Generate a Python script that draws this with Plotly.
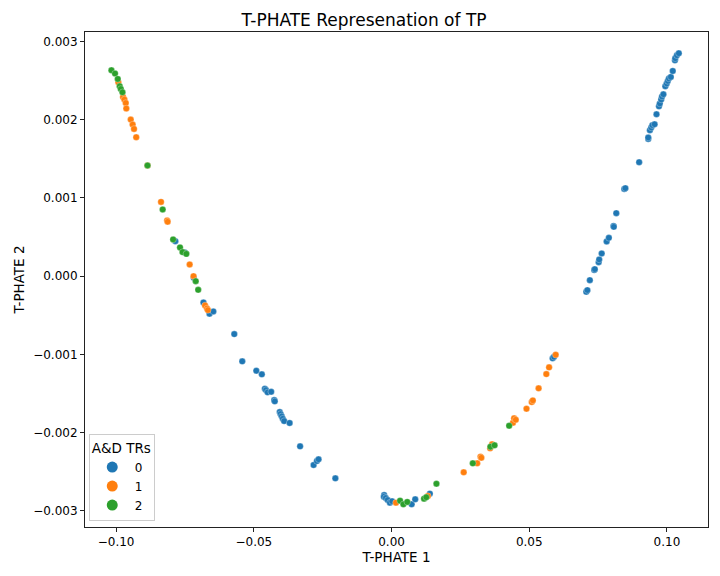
import plotly.graph_objects as go

# T-PHATE embedding
tr0_x = [-0.0785, -0.0751, -0.0718, -0.0683, -0.0661, -0.0647, -0.0571, -0.0542,
         -0.0491, -0.0471, -0.0460, -0.0456, -0.0450, -0.0437, -0.0426, -0.0424,
         -0.0406, -0.0403, -0.0399, -0.0395, -0.0390, -0.0370, -0.0332, -0.0283,
         -0.0271, -0.0265, -0.0204, -0.0027, -0.0028, -0.0021, -0.0014, -0.0006,
         0.0002, 0.0073, 0.0086, 0.0139, 0.0585, 0.0590,
         0.0707, 0.0711, 0.0720, 0.0736, 0.0738, 0.0752, 0.0754, 0.0763,
         0.0781, 0.0789, 0.0806, 0.0807, 0.0816, 0.0845, 0.0849, 0.0899,
         0.0932, 0.0932, 0.0938, 0.0943, 0.0947, 0.0955, 0.0962, 0.0971,
         0.0974, 0.0979, 0.0982, 0.0987, 0.0994, 0.0999, 0.1003, 0.1007,
         0.1014, 0.1021, 0.1029, 0.1030, 0.1036, 0.1043]
tr0_y = [0.000447, 0.000303, -0.000022, -0.000336, -0.000481, -0.000451, -0.000741, -0.001089,
         -0.001209, -0.001255, -0.001439, -0.001456, -0.001485, -0.001478, -0.001584, -0.001600,
         -0.001737, -0.001762, -0.001792, -0.001822, -0.001852, -0.001877, -0.002175, -0.002414,
         -0.002363, -0.002341, -0.002584, -0.002797, -0.002819, -0.002835, -0.002861, -0.002895,
         -0.002877, -0.002916, -0.002852, -0.002780, -0.001051, -0.001031,
         -0.000201, -0.000179, -0.000051, 0.000077, 0.000089, 0.000179, 0.000213, 0.000290,
         0.000443, 0.000489, 0.000642, 0.000630, 0.000805, 0.001115, 0.001124, 0.001456,
         0.001754, 0.001771, 0.001865, 0.001899, 0.001928, 0.001941, 0.002069, 0.002171,
         0.002206, 0.002257, 0.002295, 0.002324, 0.002427, 0.002461, 0.002494, 0.002525,
         0.002545, 0.002622, 0.002759, 0.002784, 0.002822, 0.002848]

tr1_x = [-0.0992, -0.0975, -0.0970, -0.0965, -0.0963, -0.0947, -0.0940, -0.0935,
         -0.0927, -0.0886, -0.0837, -0.0815, -0.0813, -0.0733, -0.0719, -0.0677,
         -0.0670, -0.0667, 0.0016, 0.0132, 0.0262, 0.0311, 0.0323, 0.0326,
         0.0358, 0.0365, 0.0441, 0.0445, 0.0451, 0.0490, 0.0509, 0.0513,
         0.0534, 0.0562, 0.0572, 0.0596]
tr1_y = [0.002478, 0.002290, 0.002257, 0.002213, 0.002142, 0.002001, 0.001937, 0.001881,
         0.001775, 0.001414, 0.000949, 0.000711, 0.000695, 0.000149, 0.000000, -0.000374,
         -0.000413, -0.000434, -0.002895, -0.002810, -0.002507, -0.002392, -0.002308, -0.002321,
         -0.002201, -0.002149, -0.001874, -0.001817, -0.001835, -0.001695, -0.001609, -0.001588,
         -0.001434, -0.001252, -0.001166, -0.001005]

tr2_x = [-0.1017, -0.1004, -0.0994, -0.0987, -0.0983, -0.0977, -0.0886, -0.0831,
         -0.0793, -0.0768, -0.0759, -0.0745, -0.0711, -0.0702, 0.0031, 0.0043,
         0.0057, 0.0118, 0.0126, 0.0163, 0.0295, 0.0359, 0.0374, 0.0427]
tr2_y = [0.002631, 0.002589, 0.002520, 0.002427, 0.002392, 0.002350, 0.001414, 0.000852,
         0.000469, 0.000367, 0.000307, 0.000285, -0.000064, -0.000175, -0.002870, -0.002916,
         -0.002886, -0.002844, -0.002826, -0.002653, -0.002392, -0.002180, -0.002162, -0.001912]

groups = ["0", "1", "2"]
colors = ["#1f77b4", "#ff7f0e", "#2ca02c"]

x_ticks = [-0.10, -0.05, 0.00, 0.05, 0.10]
x_labels = ["\u22120.10", "\u22120.05", "0.00", "0.05", "0.10"]
y_ticks = [-0.003, -0.002, -0.001, 0.000, 0.001, 0.002, 0.003]
y_labels = ["\u22120.003", "\u22120.002", "\u22120.001", "0.000", "0.001", "0.002", "0.003"]

font = "DejaVu Sans, Arial, sans-serif"

fig = go.Figure()
for name, xs, ys, col in zip(groups, [tr0_x, tr1_x, tr2_x], [tr0_y, tr1_y, tr2_y], colors):
    fig.add_trace(go.Scatter(x=xs, y=ys, mode="markers", showlegend=False,
                             marker=dict(color=col, size=6.5, line=dict(width=0.3, color="white"))))

# bigger markers for the legend only
for name, col in zip(groups, colors):
    fig.add_trace(go.Scatter(x=[None], y=[None], mode="markers", name=name,
                             marker=dict(color=col, size=11)))

# the page body adds an 8px margin, so the figure is a bit smaller than the window
fig.update_layout(
    width=712, height=568,
    paper_bgcolor="white", plot_bgcolor="white",
    font=dict(family=font, size=12, color="black"),
    title=dict(text="T-PHATE Represenation of TP", x=0.5, xanchor="center",
               y=0.979, yanchor="middle", font=dict(size=17, color="black")),
    margin=dict(l=73, r=11, t=24, b=49),
    legend=dict(title=dict(text="A&D TRs", font=dict(size=13.5), side="top"),
                x=0.006, y=0.012, xanchor="left", yanchor="bottom",
                bgcolor="rgba(255,255,255,0.8)", bordercolor="#cccccc", borderwidth=1,
                font=dict(size=12), itemsizing="trace", itemwidth=35, tracegroupgap=0),
)
fig.update_xaxes(range=[-0.1113, 0.1149], tickvals=x_ticks, ticktext=x_labels,
                 showgrid=False, zeroline=False, showline=True, mirror=True,
                 linecolor="#222222", linewidth=1, ticks="outside", ticklen=4,
                 tickcolor="#222222", title=dict(text="T-PHATE 1", font=dict(size=13.5), standoff=4))
fig.update_yaxes(range=[-0.003206, 0.00312], tickvals=y_ticks, ticktext=y_labels,
                 showgrid=False, zeroline=False, showline=True, mirror=True,
                 linecolor="#222222", linewidth=1, ticks="outside", ticklen=4,
                 tickcolor="#222222", title=dict(text="T-PHATE 2", font=dict(size=13.5), standoff=5))

fig.write_html("out.html")
